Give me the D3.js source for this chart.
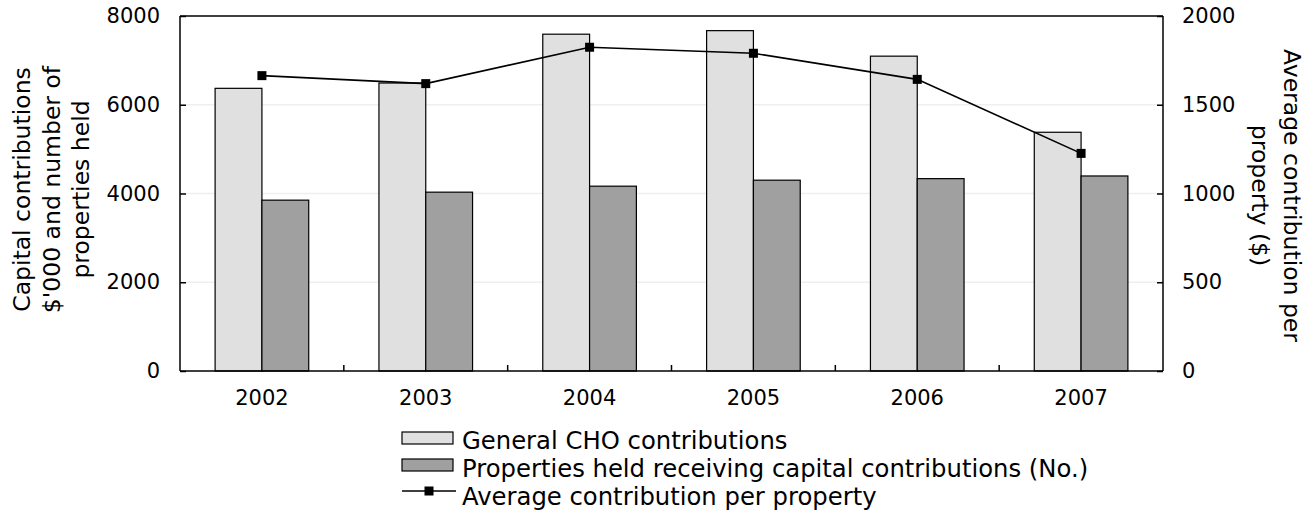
<!DOCTYPE html>
<html>
<head>
<meta charset="utf-8">
<script src="https://cdn.jsdelivr.net/npm/d3@7"></script>
<style>
  html, body { margin: 0; padding: 0; background: #fff; }
  svg { display: block; }
  text { font-family: "DejaVu Sans", Verdana, sans-serif; fill: #000; }
</style>
</head>
<body>
<svg id="chart" width="1314" height="517"></svg>
<script>
// Years on the category axis
const years = ["2002", "2003", "2004", "2005", "2006", "2007"];
// General CHO capital contributions ($'000)
const generalContributions = [6370, 6490, 7590, 7670, 7095, 5380];
// Properties held receiving capital contributions (No.)
const propertiesHeld = [3850, 4030, 4165, 4300, 4335, 4395];
// Average contribution per property ($), right axis
const avgPerProperty = [1664, 1619, 1824, 1790, 1643, 1226];

const leftTicks = [0, 2000, 4000, 6000, 8000];
const rightTicks = [0, 500, 1000, 1500, 2000];

const seriesNames = [
  "General CHO contributions",
  "Properties held receiving capital contributions (No.)",
  "Average contribution per property"
];
const leftTitle = ["Capital contributions", "$'000 and number of", "properties held"];
const rightTitle = ["Average contribution per", "property ($)"];

const lightFill = "#e0e0e0";
const darkFill = "#a0a0a0";
const tickFont = 21;
const titleFont = 23.5;
const legendFont = 24.3;

const svg = d3.select("#chart");
const m = { left: 180, top: 16, right: 1163, bottom: 371 };
const W = m.right - m.left, H = m.bottom - m.top;

const g = svg.append("g").attr("transform", `translate(${m.left},${m.top})`);

const x = d3.scaleBand().domain(years).range([0, W]).paddingInner(0).paddingOuter(0);
const yL = d3.scaleLinear().domain([0, 8000]).range([H, 0]);
const yR = d3.scaleLinear().domain([0, 2000]).range([H, 0]);

// faint horizontal gridlines
g.append("g").selectAll("line").data(leftTicks.filter(d => d > 0 && d < 8000)).join("line")
  .attr("x1", 0).attr("x2", W)
  .attr("y1", d => yL(d)).attr("y2", d => yL(d))
  .attr("stroke", "#efefef").attr("stroke-width", 1.5);

// bars: two per year, centred in each band
const barW = x.bandwidth() / 3.5;
const groups = g.append("g").selectAll("g").data(years).join("g")
  .attr("transform", d => `translate(${x(d) + x.bandwidth() / 2},0)`);

groups.append("rect")
  .attr("x", -barW).attr("width", barW)
  .attr("y", (d, i) => yL(generalContributions[i]))
  .attr("height", (d, i) => H - yL(generalContributions[i]))
  .attr("fill", lightFill).attr("stroke", "#000").attr("stroke-width", 1.2);

groups.append("rect")
  .attr("x", 0).attr("width", barW)
  .attr("y", (d, i) => yL(propertiesHeld[i]))
  .attr("height", (d, i) => H - yL(propertiesHeld[i]))
  .attr("fill", darkFill).attr("stroke", "#000").attr("stroke-width", 1.2);

// average contribution line with square markers
const cx = d => x(d) + x.bandwidth() / 2;
const line = d3.line().x(d => cx(d[0])).y(d => yR(d[1]));
const pts = years.map((yr, i) => [yr, avgPerProperty[i]]);
g.append("path").datum(pts).attr("d", line)
  .attr("fill", "none").attr("stroke", "#000").attr("stroke-width", 1.6);
g.append("g").selectAll("rect").data(pts).join("rect")
  .attr("x", d => cx(d[0]) - 4.5).attr("y", d => yR(d[1]) - 4.5)
  .attr("width", 9).attr("height", 9).attr("fill", "#000");

// plot frame (top edge)
g.append("line").attr("x1", 0).attr("x2", W).attr("y1", 0).attr("y2", 0)
  .attr("stroke", "#000").attr("stroke-width", 1.5);

// left axis
const axL = g.append("g").call(d3.axisLeft(yL).tickValues(leftTicks).tickSize(-6).tickPadding(20).tickFormat(d3.format("d")));
// right axis
const axR = g.append("g").attr("transform", `translate(${W},0)`)
  .call(d3.axisRight(yR).tickValues(rightTicks).tickSize(-6).tickPadding(19).tickFormat(d3.format("d")));
// bottom axis: labels centred in bands
const axB = g.append("g").attr("transform", `translate(0,${H})`)
  .call(d3.axisBottom(x).tickSize(0).tickPadding(19));
// category boundary ticks
g.append("g").selectAll("line").data(years.slice(1)).join("line")
  .attr("x1", d => x(d)).attr("x2", d => x(d))
  .attr("y1", H).attr("y2", H - 6)
  .attr("stroke", "#000").attr("stroke-width", 1.5);

[axL, axR, axB].forEach(a => {
  a.select(".domain").attr("stroke", "#000").attr("stroke-width", 1.5);
  a.selectAll(".tick line").attr("stroke", "#000").attr("stroke-width", 1.5);
  a.selectAll("text").style("font-size", tickFont + "px").style("font-family", "DejaVu Sans, Verdana, sans-serif");
});
axL.select(".domain").attr("d", `M0,0V${H}`);
axR.select(".domain").attr("d", `M0,0V${H}`);
axB.select(".domain").attr("d", `M0,0H${W}`);

// axis titles
const lt = svg.append("text")
  .attr("transform", `translate(22,${m.top + H / 2 - 4}) rotate(-90)`)
  .attr("text-anchor", "middle").style("font-size", titleFont + "px");
leftTitle.forEach((t, i) => lt.append("tspan").attr("x", 0).attr("dy", i === 0 ? "0.35em" : 29.5).text(t));

const rt = svg.append("text")
  .attr("transform", `translate(1292,${m.top + H / 2 + 2}) rotate(90)`)
  .attr("text-anchor", "middle").style("font-size", titleFont + "px");
rightTitle.forEach((t, i) => rt.append("tspan").attr("x", 0).attr("dy", i === 0 ? "0.35em" : 31.5).text(t));

// legend
const legend = svg.append("g").attr("transform", "translate(402,0)");
const swatchY = [438, 465, 491];
const textY = [440, 468, 496];
const fills = [lightFill, darkFill];
seriesNames.forEach((name, i) => {
  const row = legend.append("g");
  if (i < 2) {
    row.append("rect").attr("x", 0).attr("y", swatchY[i] - 6).attr("width", 51).attr("height", 12)
      .attr("fill", fills[i]).attr("stroke", "#000").attr("stroke-width", 1.2);
  } else {
    row.append("line").attr("x1", 0).attr("x2", 54).attr("y1", swatchY[i]).attr("y2", swatchY[i])
      .attr("stroke", "#000").attr("stroke-width", 1.6);
    row.append("rect").attr("x", 27 - 4.5).attr("y", swatchY[i] - 4.5).attr("width", 9).attr("height", 9).attr("fill", "#000");
  }
  row.append("text").attr("x", 60).attr("y", textY[i]).attr("dy", "0.35em")
    .style("font-size", legendFont + "px").text(name);
});
</script>
</body>
</html>
